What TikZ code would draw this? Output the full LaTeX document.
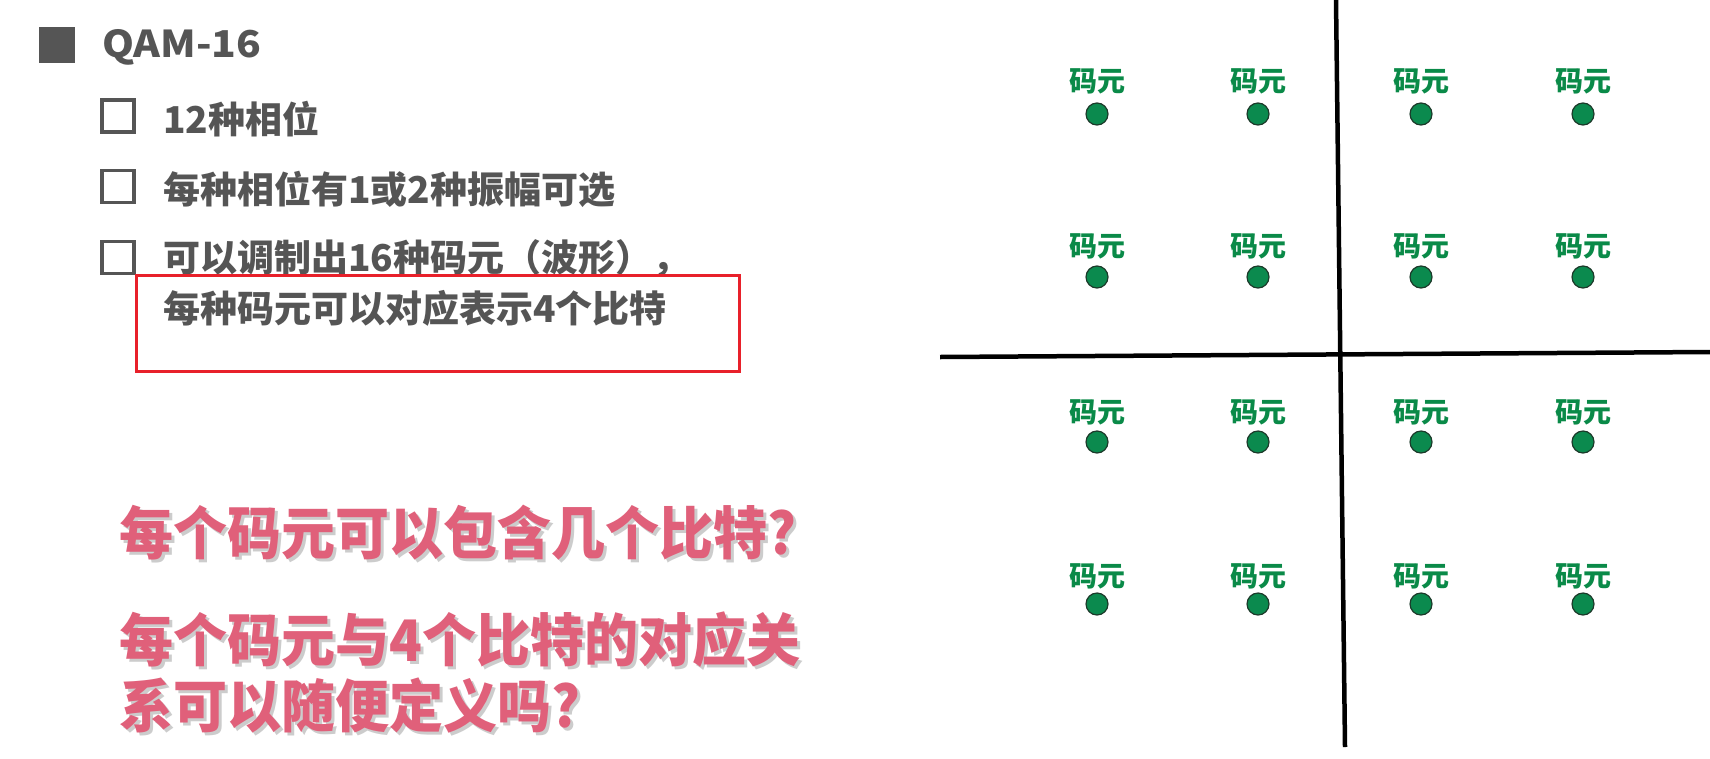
\documentclass[tikz,border=0pt]{standalone}
\usepackage{fontspec}
\setmainfont{Noto Sans CJK SC}
\definecolor{txtgray}{HTML}{555555}
\definecolor{redc}{HTML}{E8202A}
\definecolor{dotgreen}{HTML}{0B8A4E}
\definecolor{dotedge}{HTML}{1C3A2A}
\definecolor{labgreen}{HTML}{0A8A48}
\definecolor{pinkc}{HTML}{E0607A}
\definecolor{shadowc}{HTML}{CCCCCC}
\tikzset{
  grayt/.style={text=txtgray, font=\bfseries\fontsize{37}{40}\selectfont, anchor=west, inner sep=0pt},
  chkbox/.style={draw=txtgray, line width=3.2pt, minimum size=32pt, inner sep=0pt},
  dotc/.style={circle, fill=dotgreen, draw=dotedge, line width=1.2pt, minimum size=22pt, inner sep=0pt},
  lab/.style={text=labgreen, font=\bfseries\fontsize{28}{30}\selectfont, inner sep=0pt},
  pinkt/.style={text=pinkc, font=\bfseries\fontsize{54}{58}\selectfont, anchor=west, inner sep=0pt},
  shadowt/.style={pinkt, text=shadowc},
  axisline/.style={line width=4.5pt, black}
}
\newcommand{\tallq}[1]{\scalebox{1}[1.06]{#1}}
\begin{document}
\begin{tikzpicture}[x=1pt,y=-1pt]
\fill[white] (0,0) rectangle (1710,758);
\useasboundingbox (0,0) rectangle (1710,758);

% left bullets and text
\node[fill=txtgray, minimum size=36pt, inner sep=0pt] (bullet) at (57,45) {};
\node[grayt] (title) at (102,47) {\scalebox{1.1}[1]{QAM-16}};

\node[chkbox] (c1) at (118,116) {};
\node[chkbox] (c2) at (118,186.5) {};
\node[chkbox] (c3) at (118,257.5) {};

\node[grayt] (t1) at (163,119) {12种相位};
\node[grayt] (t2) at (163,189) {每种相位有1或2种振幅可选};
\node[grayt] (t3) at (163,258) {可以调制出16种码元（波形），};
\node[grayt] (t4) at (163,308) {每种码元可以对应表示4个比特};

\node[draw=redc, line width=3pt, minimum width=603pt, minimum height=96pt, inner sep=0pt] (hl) at (437.5,323) {};

% pink questions
\node[shadowt] (q1s) at (122,536) {\tallq{每个码元可以包含几个比特?}};
\node[pinkt] (q1) at (119,533) {\tallq{每个码元可以包含几个比特?}};
\node[shadowt] (q2s) at (122,643) {\tallq{每个码元与4个比特的对应关}};
\node[pinkt] (q2) at (119,640) {\tallq{每个码元与4个比特的对应关}};
\node[shadowt] (q3s) at (122,709) {\tallq{系可以随便定义吗?}};
\node[pinkt] (q3) at (119,706) {\tallq{系可以随便定义吗?}};

% axes
\coordinate (vt) at (1336,0);
\coordinate (vb) at (1345,747);
\coordinate (hl0) at (940,357);
\coordinate (hr0) at (1710,352);
\draw[axisline] (vt) -- (vb);
\draw[axisline] (hl0) -- (hr0);

% constellation
\foreach \x [count=\i] in {1097,1258,1421,1583} {
  \foreach \y/\ly [count=\j] in {114/81,277/246,442/412,604/576} {
    \node[dotc] (d\i\j) at (\x,\y) {};
    \node[lab] (l\i\j) at (\x,\ly) {码元};
  }
}
\end{tikzpicture}
\end{document}
